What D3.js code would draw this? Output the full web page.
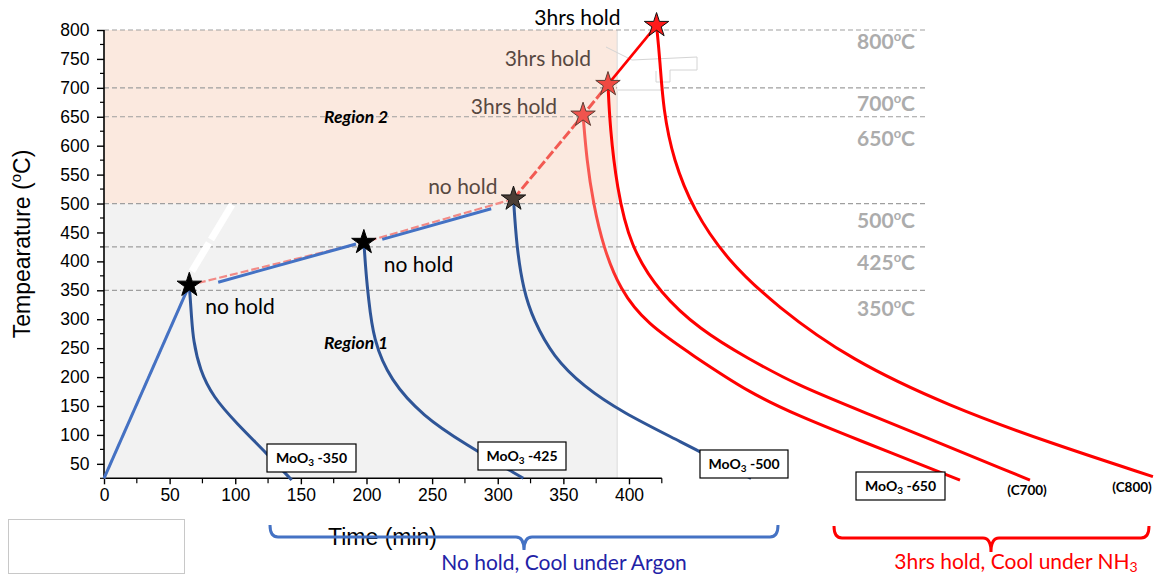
<!DOCTYPE html>
<html>
<head>
<meta charset="utf-8">
<script src="https://cdn.jsdelivr.net/npm/d3@7"></script>
<style>
  html, body { margin: 0; padding: 0; background: #fff; }
  svg { display: block; }
</style>
</head>
<body>
<svg id="chart" width="1156" height="577"></svg>
<script>
// ---- Heating programme: stages reached (time in min, temperature in °C) ----
const stageTime   = [0, 65, 198, 312, 365, 384, 421];
const stageTemp   = [25, 359, 433, 508, 653, 706, 808];
const stageLabels = ["", "no hold", "no hold", "no hold", "3hrs hold", "3hrs hold", "3hrs hold"];

// Solid blue parts of the ramp (argon runs)
const argonRampTime = [[0, 65], [87, 192], [212, 295]];
const argonRampTemp = [[25, 359], [364, 430], [438, 491]];

// ---- Cooling curves after each stage ----
const cool350Time = [65, 66.8, 68, 73, 83, 101, 124, 143];
const cool350Temp = [359, 300, 264, 212, 166, 120, 68, 22];
const cool425Time = [198, 199.6, 201.4, 205.2, 217.9, 243.3, 273.8, 319.5];
const cool425Temp = [433, 380, 339, 264, 195, 132, 86, 25];
const cool500Time = [312, 314.4, 319.5, 327.1, 342.3, 365.2, 395.7, 436.3, 493];
const cool500Temp = [508, 425, 351, 299, 235, 184, 138, 92, 25];
const cool650Time = [365, 367.8, 372.8, 380.4, 393.1, 413.5, 449, 492.2, 530.3, 568.4, 652.2];
const cool650Temp = [653, 575, 500, 425, 351, 292, 237, 172, 132, 97, 22];
const cool700Time = [384, 385.5, 390.6, 400.8, 423.6, 454.1, 489.7, 530.3, 568.4, 705.5];
const cool700Temp = [706, 633, 529, 426, 345, 282, 233, 184, 149, 22];
const cool800Time = [421, 423.6, 426.1, 433.8, 449, 474.4, 512.5, 568.4, 644.6, 720.8, 799.2];
const cool800Temp = [808, 748, 662, 575, 489, 403, 322, 230, 149, 86, 28];

// ---- Regions, reference temperatures, ticks ----
const regionTemps = [25, 500, 800];
const regionNames = ["Region 1", "Region 2"];
const regionEndTime = 391;
const refTemps = [800, 700, 650, 500, 425, 350];
const xTicks = [0, 50, 100, 150, 200, 250, 300, 350, 400];
const xMinorTicks = [25, 75, 125, 175, 225, 275, 325, 375, 425];
const yTicks = [50, 100, 150, 200, 250, 300, 350, 400, 450, 500, 550, 600, 650, 700, 750, 800];
const yMinorTicks = [25, 75, 125, 175, 225, 275, 325, 375, 425, 475, 525, 575, 625, 675, 725, 775];
const sampleNames = ["-350", "-425", "-500", "-650"];
const sampleCodes = ["(C700)", "(C800)"];

// ---- Scales ----
const x = d3.scaleLinear().domain([0, 425]).range([104, 661.8]);
const y = d3.scaleLinear().domain([25, 800]).range([478.3, 30]);

const svg = d3.select("#chart");
const AX_FONT = "'Liberation Sans', Arial, sans-serif";
const TX_FONT = "Lato, 'Open Sans', sans-serif";

// Shaded regions
svg.selectAll("rect.region").data([0, 1]).join("rect")
  .attr("class", "region")
  .attr("x", x(0)).attr("width", x(regionEndTime) - x(0))
  .attr("y", i => y(regionTemps[i + 1]))
  .attr("height", i => y(regionTemps[i]) - y(regionTemps[i + 1]))
  .attr("fill", (d, i) => ["#f2f2f2", "#fbe9df"][i]);
svg.append("line")
  .attr("x1", x(regionEndTime)).attr("x2", x(regionEndTime))
  .attr("y1", y(800)).attr("y2", y(25))
  .attr("stroke", "#dadada").attr("stroke-width", 1);

// Reference temperature lines
svg.selectAll("line.ref").data(refTemps).join("line")
  .attr("class", "ref")
  .attr("x1", x(0)).attr("x2", x(626))
  .attr("y1", d => y(d)).attr("y2", d => y(d))
  .attr("stroke", "#9f9f9f").attr("stroke-width", 1.2)
  .attr("stroke-dasharray", "5,3");

// Temperature tags on the right (placed just under each line)
const tagGap = [19, 23, 29, 24, 23, 26];
const tags = svg.selectAll("text.tag").data(refTemps).join("text")
  .attr("class", "tag")
  .attr("x", 915).attr("y", (d, i) => y(d) + tagGap[i])
  .attr("text-anchor", "end")
  .attr("font-family", TX_FONT).attr("font-weight", 700)
  .attr("font-size", 21).attr("fill", "#acacac");
tags.append("tspan").text(d => d);
tags.append("tspan").attr("font-size", 13).attr("dy", -8).text("o");
tags.append("tspan").attr("dy", 8).text("C");

// Region names
svg.selectAll("text.region").data(regionNames).join("text")
  .attr("class", "region")
  .attr("x", 324)
  .attr("y", (d, i) => i === 0 ? 349 : 123)
  .attr("font-family", TX_FONT).attr("font-weight", 700).attr("font-style", "italic")
  .attr("font-size", 17.5).attr("fill", "#000")
  .text(d => d);

// White stroke across Region 1
svg.append("line")
  .attr("x1", x(67)).attr("y1", y(383))
  .attr("x2", x(97.5)).attr("y2", y(498))
  .attr("stroke", "#fff").attr("stroke-width", 7)
  .attr("stroke-dasharray", "33,4,80");

// White patch beside the 700 °C stage
svg.append("rect").attr("x", x(regionEndTime)).attr("y", 84).attr("width", 46).attr("height", 7)
  .attr("fill", "#fff");
svg.append("path")
  .attr("d", "M606,47 L632,60 L697,57 L697,70 L670,70 L670,82 L656,82 L656,71 M617,90 L663,90")
  .attr("fill", "none").attr("stroke", "#d4d4d4").attr("stroke-width", 1);

// ---- Axes ----
const gy = svg.append("g").attr("transform", `translate(${x(0)},0)`)
  .call(d3.axisLeft(y).tickValues(yTicks).tickSize(7).tickPadding(7.5).tickSizeOuter(0));
const gx = svg.append("g").attr("transform", `translate(0,${y(25)})`)
  .call(d3.axisBottom(x).tickValues(xTicks).tickSize(6).tickPadding(4.6).tickSizeOuter(0));
[gx, gy].forEach(g => {
  g.attr("font-family", AX_FONT).attr("font-size", 17.5);
  g.select(".domain").attr("stroke", "#000").attr("stroke-width", 1.6);
  g.selectAll(".tick line").attr("stroke", "#000").attr("stroke-width", 1.4);
  g.selectAll(".tick text").attr("fill", "#000");
});
gx.select(".domain").attr("d", `M${x(0)},0H${x(425)}`);
gy.select(".domain").attr("d", `M0,${y(25)}V${y(800)}`);
gy.selectAll("line.minor").data(yMinorTicks).join("line")
  .attr("class", "minor").attr("x1", -4).attr("x2", 0)
  .attr("y1", d => y(d)).attr("y2", d => y(d))
  .attr("stroke", "#000").attr("stroke-width", 1.2);
gx.selectAll("line.minor").data(xMinorTicks).join("line")
  .attr("class", "minor").attr("y1", 0).attr("y2", 5)
  .attr("x1", d => x(d)).attr("x2", d => x(d))
  .attr("stroke", "#000").attr("stroke-width", 1.2);

// Axis titles
svg.append("text")
  .attr("x", 382.5).attr("y", 545)
  .attr("text-anchor", "middle")
  .attr("font-family", AX_FONT).attr("font-size", 23).attr("fill", "#000")
  .text("Time (min)");
const yTitle = svg.append("text")
  .attr("transform", "translate(30,244) rotate(-90)")
  .attr("text-anchor", "middle")
  .attr("font-family", AX_FONT).attr("font-size", 23).attr("fill", "#000");
yTitle.append("tspan").text("Tempearature (");
yTitle.append("tspan").attr("font-size", 15).attr("dy", -9).text("o");
yTitle.append("tspan").attr("dy", 9).text("C)");

// ---- Heating ramp ----
const line = d3.line().x(d => x(d[0])).y(d => y(d[1]));
const stages = stageTime.map((t, i) => [t, stageTemp[i]]);

svg.append("path").attr("d", line(stages.slice(0, 4)))
  .attr("fill", "none").attr("stroke", "#f28a86").attr("stroke-width", 2.2)
  .attr("stroke-dasharray", "8,3");
svg.append("path").attr("d", line(stages.slice(3, 6)))
  .attr("fill", "none").attr("stroke", "#f25a52").attr("stroke-width", 3)
  .attr("stroke-dasharray", "10,3");
svg.append("path").attr("d", line(stages.slice(5, 7)))
  .attr("fill", "none").attr("stroke", "#ff0000").attr("stroke-width", 2.6);

svg.selectAll("path.argon").data(argonRampTime.map((t, i) => t.map((v, j) => [v, argonRampTemp[i][j]])))
  .join("path").attr("class", "argon")
  .attr("d", line)
  .attr("fill", "none").attr("stroke", "#4472c4").attr("stroke-width", 3);

// ---- Cooling curves ----
const smooth = d3.line().x(d => x(d[0])).y(d => y(d[1])).curve(d3.curveBasis);
const pairs = (ts, vs) => ts.map((t, i) => [t, vs[i]]);

const defs = svg.append("defs");
const grad = defs.append("linearGradient").attr("id", "fade650")
  .attr("gradientUnits", "userSpaceOnUse")
  .attr("x1", 0).attr("x2", 0).attr("y1", y(653)).attr("y2", y(330));
grad.append("stop").attr("offset", 0).attr("stop-color", "#f7625c");
grad.append("stop").attr("offset", 0.75).attr("stop-color", "#fa4a44");
grad.append("stop").attr("offset", 1).attr("stop-color", "#ff0000");

const coolCurves = [
  { pts: pairs(cool350Time, cool350Temp), color: "#2f5597" },
  { pts: pairs(cool425Time, cool425Temp), color: "#2f5597" },
  { pts: pairs(cool500Time, cool500Temp), color: "#2f5597" },
  { pts: pairs(cool650Time, cool650Temp), color: "url(#fade650)" },
  { pts: pairs(cool700Time, cool700Temp), color: "#ff0000" },
  { pts: pairs(cool800Time, cool800Temp), color: "#ff0000" }
];
svg.selectAll("path.cool").data(coolCurves).join("path")
  .attr("class", "cool")
  .attr("d", d => smooth(d.pts))
  .attr("fill", "none").attr("stroke", d => d.color).attr("stroke-width", 3);

// ---- Stage markers ----
const starFill   = ["none", "#000", "#000", "#4b3d35", "#f0544e", "#f04a42", "#ff1a1a"];
const starStroke = ["none", "#000", "#000", "#111", "#5b3f35", "#5b3f35", "#111"];
const star = d3.symbol().type(d3.symbolStar).size(185);
svg.selectAll("path.star").data(stages.slice(1)).join("path")
  .attr("class", "star")
  .attr("transform", d => `translate(${x(d[0])},${y(d[1])})`)
  .attr("d", star)
  .attr("fill", (d, i) => starFill[i + 1])
  .attr("stroke", (d, i) => starStroke[i + 1])
  .attr("stroke-width", 1);

// Stage labels
const labelLayout = [
  null,
  { dx: 16, dy: 29, anchor: "start", color: "#000" },
  { dx: 20, dy: 30, anchor: "start", color: "#000" },
  { dx: -16, dy: -5, anchor: "end", color: "#574841" },
  { dx: -26, dy: -1, anchor: "end", color: "#574841" },
  { dx: -17, dy: -18, anchor: "end", color: "#574841" },
  { dx: -36, dy: 0, anchor: "end", color: "#000" }
];
svg.selectAll("text.stage").data(d3.range(1, stages.length)).join("text")
  .attr("class", "stage")
  .attr("x", i => x(stageTime[i]) + labelLayout[i].dx)
  .attr("y", i => y(stageTemp[i]) + labelLayout[i].dy)
  .attr("text-anchor", i => labelLayout[i].anchor)
  .attr("font-family", TX_FONT).attr("font-size", 21)
  .attr("fill", i => labelLayout[i].color)
  .text(i => stageLabels[i]);

// ---- Sample boxes ----
const boxes = [
  { x: 267, y: 444, w: 89, h: 28 },
  { x: 478, y: 442, w: 88, h: 28 },
  { x: 700, y: 450, w: 88, h: 28 },
  { x: 856, y: 472, w: 89, h: 28 }
];
const boxG = svg.selectAll("g.sample").data(sampleNames).join("g").attr("class", "sample");
boxG.append("rect")
  .attr("x", (d, i) => boxes[i].x).attr("y", (d, i) => boxes[i].y)
  .attr("width", (d, i) => boxes[i].w).attr("height", (d, i) => boxes[i].h)
  .attr("fill", "#fff").attr("stroke", "#000").attr("stroke-width", 1.2);
const boxText = boxG.append("text")
  .attr("x", (d, i) => boxes[i].x + boxes[i].w / 2)
  .attr("y", (d, i) => boxes[i].y + 19)
  .attr("text-anchor", "middle")
  .attr("font-family", TX_FONT).attr("font-weight", 700).attr("font-size", 14).attr("fill", "#000");
boxText.append("tspan").text("MoO");
boxText.append("tspan").attr("font-size", 10).attr("dy", 3).text("3");
boxText.append("tspan").attr("dy", -3).text(d => " " + d);

svg.selectAll("text.code").data(sampleCodes).join("text")
  .attr("class", "code")
  .attr("x", (d, i) => [1027, 1132][i])
  .attr("y", (d, i) => [495, 492][i])
  .attr("text-anchor", "middle")
  .attr("font-family", TX_FONT).attr("font-weight", 700).attr("font-size", 13.5).attr("fill", "#000")
  .text(d => d);

// ---- Group braces and captions ----
svg.append("path")
  .attr("d", "M270,525 Q270,537 278,537 H516 Q524,537 524,550 Q524,537 532,537 H770 Q778,537 778,525")
  .attr("fill", "none").attr("stroke", "#4472c4").attr("stroke-width", 3);
svg.append("path")
  .attr("d", "M834,526 Q834,538 842,538 H983 Q991,538 991,552 Q991,538 999,538 H1141 Q1149,538 1149,526")
  .attr("fill", "none").attr("stroke", "#ff0000").attr("stroke-width", 3);

svg.append("text")
  .attr("x", 564).attr("y", 570).attr("text-anchor", "middle")
  .attr("font-family", TX_FONT).attr("font-size", 21).attr("fill", "#2222a6")
  .text("No hold, Cool under Argon");
const nh3 = svg.append("text")
  .attr("x", 1016).attr("y", 569).attr("text-anchor", "middle")
  .attr("font-family", TX_FONT).attr("font-size", 21).attr("fill", "#ff0000");
nh3.append("tspan").text("3hrs hold, Cool under NH");
nh3.append("tspan").attr("font-size", 14).attr("dy", 3).text("3");

// Empty frame bottom-left
svg.append("rect").attr("x", 8.5).attr("y", 519.5).attr("width", 176).attr("height", 54)
  .attr("fill", "#fff").attr("stroke", "#c8c8c8").attr("stroke-width", 1);
</script>
</body>
</html>
